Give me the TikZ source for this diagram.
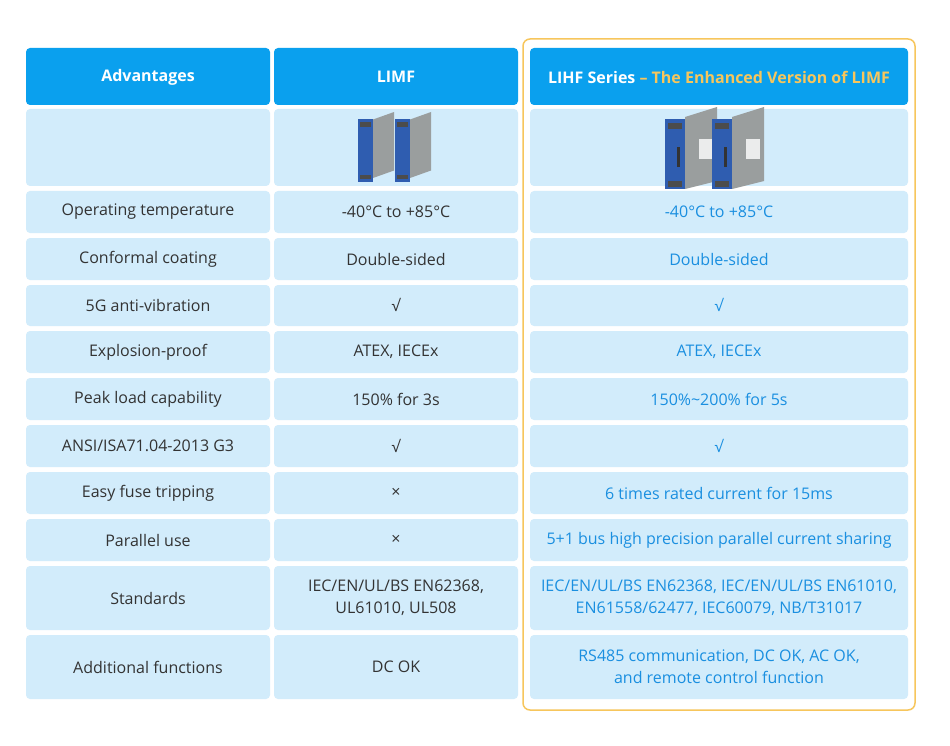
\documentclass[tikz,border=0pt]{standalone}
\usepackage{fontspec}
\setmainfont{Open Sans}
\definecolor{hdr}{HTML}{0AA0EE}
\definecolor{cell}{HTML}{D2ECFB}
\definecolor{bluetxt}{HTML}{1A8FE0}
\definecolor{gold}{HTML}{F7C65C}
\definecolor{txt}{HTML}{333333}
\definecolor{dev}{HTML}{2F5DB0}
\definecolor{devside}{HTML}{9A9E9E}
\begin{document}
\begin{tikzpicture}[x=1pt,y=-1pt,
  hbox/.style={fill=hdr,rounded corners=4pt},
  cbox/.style={fill=cell,rounded corners=4pt},
  t/.style={font=\fontsize{16}{22}\selectfont,text=txt,align=center},
  tb/.style={font=\fontsize{16}{22}\selectfont,text=bluetxt,align=center},
  th/.style={font=\fontsize{16}{20}\selectfont\bfseries,text=white,align=center}]
\useasboundingbox (0,0) rectangle (950,746);
\fill[white] (0,0) rectangle (950,746);
\draw[gold,line width=1.5pt,rounded corners=7pt] (523,39) rectangle (915,710);
% headers
\fill[hbox] (26,48) rectangle (270,105);
\fill[hbox] (274,48) rectangle (518,105);
\fill[hbox] (530,48) rectangle (908,105);
\node[th] (h1) at (148,77) {Advantages};
\node[th] (h2) at (396,77) {LIMF};
\node[th] (h3) at (719,77) {LIHF Series \textcolor{gold}{– The Enhanced Version of LIMF}};
% rows
\foreach \ya/\yb [count=\i] in {109/186,191/233,238/280,285/326,331/373,378/420,425/467,472/514,519/561,566/630,635/699}{
  \fill[cbox] (26,\ya) rectangle (270,\yb);
  \fill[cbox] (274,\ya) rectangle (518,\yb);
  \fill[cbox] (530,\ya) rectangle (908,\yb);
}
% devices
\foreach \x/\s in {358/0.75,395/0.75}{
 \begin{scope}[shift={(\x,112)},scale=\s]
  \fill[devside] (20,10) -- (48,0) -- (48,78) -- (20,88) -- cycle;
  \fill[dev] (0,10) rectangle (20,94);
  \fill[black!70] (3,14) rectangle (17,20);
  \fill[black!70] (3,84) rectangle (17,90);
 \end{scope}}
\foreach \x in {665,712}{
 \begin{scope}[shift={(\x,107)}]
  \fill[devside] (20,10) -- (52,0) -- (52,74) -- (20,82) -- cycle;
  \fill[white!80!devside] (34,32) rectangle (48,52);
  \fill[dev] (0,12) rectangle (20,82);
  \fill[black!70] (3,16) rectangle (17,22);
  \fill[black!80] (12,40) rectangle (15,60);
  \fill[black!70] (3,74) rectangle (17,80);
 \end{scope}}
% texts
\node[t] (a1) at (148,212) {Operating temperature};
\node[t] (b1) at (396,212) {-40°C to +85°C};
\node[tb] (c1) at (719,212) {-40°C to +85°C};
\node[t] (a2) at (148,259) {Conformal coating};
\node[t] (b2) at (396,259) {Double-sided};
\node[tb] (c2) at (719,259) {Double-sided};
\node[t] (a3) at (148,305) {5G anti-vibration};
\node[t] (b3) at (396,305) {√};
\node[tb] (c3) at (719,305) {√};
\node[t] (a4) at (148,352) {Explosion-proof};
\node[t] (b4) at (396,352) {ATEX, IECEx};
\node[tb] (c4) at (719,352) {ATEX, IECEx};
\node[t] (a5) at (148,399) {Peak load capability};
\node[t] (b5) at (396,399) {150\% for 3s};
\node[tb] (c5) at (719,399) {150\%\textasciitilde200\% for 5s};
\node[t] (a6) at (148,446) {ANSI/ISA71.04-2013 G3};
\node[t] (b6) at (396,446) {√};
\node[tb] (c6) at (719,446) {√};
\node[t] (a7) at (148,493) {Easy fuse tripping};
\node[t] (b7) at (396,493) {×};
\node[tb] (c7) at (719,493) {6 times rated current for 15ms};
\node[t] (a8) at (148,540) {Parallel use};
\node[t] (b8) at (396,540) {×};
\node[tb] (c8) at (719,540) {5+1 bus high precision parallel current sharing};
\node[t] (a9) at (148,598) {Standards};
\node[t] (b9) at (396,598) {IEC/EN/UL/BS EN62368,\\UL61010, UL508};
\node[tb] (c9) at (719,598) {IEC/EN/UL/BS EN62368, IEC/EN/UL/BS EN61010,\\EN61558/62477, IEC60079, NB/T31017};
\node[t] (a10) at (148,667) {Additional functions};
\node[t] (b10) at (396,667) {DC OK};
\node[tb] (c10) at (719,667) {RS485 communication, DC OK, AC OK,\\and remote control function};
\end{tikzpicture}
\end{document}
